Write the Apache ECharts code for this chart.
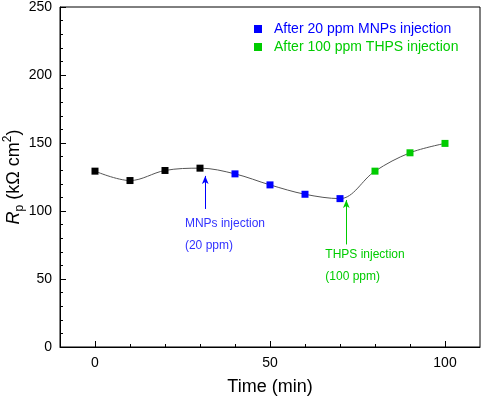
<!DOCTYPE html>
<html>
<head>
<meta charset="utf-8">
<script src="https://cdn.jsdelivr.net/npm/echarts@6/dist/echarts.min.js"></script>
<style>
  html, body { margin: 0; padding: 0; background: #fff; }
  #chart { width: 484px; height: 397px; }
</style>
</head>
<body>
<div id="chart"></div>
<script>
// time (min) and polarization resistance Rp (kΩ cm²)
const baseTime = [0, 10, 20, 30];
const baseRp = [129.3, 122.4, 129.8, 131.5];
const mnpsTime = [40, 50, 60, 70];
const mnpsRp = [127.3, 119.2, 112.3, 109.1];
const thpsTime = [80, 90, 100];
const thpsRp = [129.3, 142.8, 149.7];

// axis ticks
const xMajorTicks = [0, 50, 100];
const xMinorTicks = [10, 20, 30, 40, 60, 70, 80, 90];

// annotations: arrow [x, yFrom, yTo], text anchor [x, y]
const mnpsArrow = [31.5, 101.5, 125.8];
const thpsArrow = [71.8, 75.4, 108.1];
const mnpsNote = [25.7, 82.3];
const thpsNote = [65.8, 60.0];

const FONT = 'Liberation Sans, Arial, sans-serif';
const BLUE = '#0000ff';
const GREEN = '#00cc00';

const pairs = (xs, ys) => xs.map((x, i) => [x, ys[i]]);
const allPoints = pairs(baseTime, baseRp)
    .concat(pairs(mnpsTime, mnpsRp))
    .concat(pairs(thpsTime, thpsRp));

let chart = echarts.init(document.getElementById('chart'), null, { renderer: 'canvas' });

let option = {
    animation: false,
    grid: {
        left: 60, right: 4, top: 7, bottom: 50,
        outerBoundsMode: 'none',
        show: true, borderColor: '#000', borderWidth: 1
    },
    legend: {
        orient: 'vertical',
        left: 249, top: 17,
        itemWidth: 22, itemHeight: 8, itemGap: 4,
        icon: 'path://M0,0h8v8h-8z',
        selectedMode: false,
        textStyle: { fontFamily: FONT, fontSize: 14 },
        data: [
            { name: 'After 20 ppm MNPs injection', textStyle: { color: BLUE } },
            { name: 'After 100 ppm THPS injection', textStyle: { color: GREEN } }
        ]
    },
    xAxis: [{
        type: 'value',
        min: -10, max: 110,
        name: 'Time (min)',
        nameLocation: 'middle',
        nameGap: 31,
        nameMoveOverlap: false,
        nameTextStyle: { fontFamily: FONT, fontSize: 18, color: '#000' },
        axisLine: { onZero: false, lineStyle: { color: '#000', width: 1 } },
        axisTick: { inside: true, length: 6, customValues: xMajorTicks, lineStyle: { color: '#000' } },
        axisLabel: { customValues: xMajorTicks, margin: 9, fontFamily: FONT, fontSize: 14, color: '#000' },
        splitLine: { show: false }
    }, {
        // minor ticks only
        type: 'value',
        position: 'bottom',
        min: -10, max: 110,
        axisLine: { show: false, onZero: false },
        axisTick: { inside: true, length: 3, customValues: xMinorTicks, lineStyle: { color: '#000' } },
        axisLabel: { show: false },
        splitLine: { show: false }
    }],
    yAxis: {
        type: 'value',
        min: 0, max: 250, interval: 50,
        name: '{it|R}{sub|p}{n| (kΩ cm}{sup|2}{n|)}',
        nameLocation: 'middle',
        nameGap: 34,
        nameMoveOverlap: false,
        nameTextStyle: {
            fontFamily: FONT, fontSize: 18, color: '#000',
            rich: {
                it: { fontFamily: FONT, fontSize: 18, fontStyle: 'italic', lineHeight: 24, verticalAlign: 'middle' },
                n: { fontFamily: FONT, fontSize: 18, lineHeight: 24, verticalAlign: 'middle' },
                sub: { fontFamily: FONT, fontSize: 12, lineHeight: 12, verticalAlign: 'bottom' },
                sup: { fontFamily: FONT, fontSize: 12, lineHeight: 12, verticalAlign: 'top' }
            }
        },
        axisLine: { onZero: false, lineStyle: { color: '#000', width: 1 } },
        axisTick: { inside: true, length: 6, lineStyle: { color: '#000' } },
        minorTick: { show: true, splitNumber: 5, length: 3, lineStyle: { color: '#000' } },
        axisLabel: { margin: 8, fontFamily: FONT, fontSize: 14, color: '#000' },
        splitLine: { show: false }
    },
    series: [
        {
            // connecting curve + arrows
            type: 'line',
            data: allPoints,
            smooth: 0.35,
            showSymbol: false,
            symbol: 'none',
            lineStyle: { color: '#555', width: 1 },
            silent: true,
            z: 1,
            markLine: {
                silent: true,
                symbol: ['none', 'arrow'],
                symbolSize: [5, 8],
                label: { show: false },
                data: [
                    [
                        { coord: [mnpsArrow[0], mnpsArrow[1]], lineStyle: { color: BLUE, width: 1, type: 'solid' } },
                        { coord: [mnpsArrow[0], mnpsArrow[2]] }
                    ],
                    [
                        { coord: [thpsArrow[0], thpsArrow[1]], lineStyle: { color: GREEN, width: 1, type: 'solid' } },
                        { coord: [thpsArrow[0], thpsArrow[2]] }
                    ]
                ]
            },
            markPoint: {
                silent: true,
                symbolSize: 0,
                data: [
                    {
                        coord: mnpsNote,
                        label: {
                            show: true, position: 'right', distance: 0,
                            formatter: 'MNPs injection\n(20 ppm)',
                            fontFamily: FONT, fontSize: 12, lineHeight: 22, color: '#3333ff'
                        }
                    },
                    {
                        coord: thpsNote,
                        label: {
                            show: true, position: 'right', distance: 0,
                            formatter: 'THPS injection\n(100 ppm)',
                            fontFamily: FONT, fontSize: 12, lineHeight: 22, color: GREEN
                        }
                    }
                ]
            }
        },
        {
            name: 'Before injection',
            type: 'scatter',
            data: pairs(baseTime, baseRp),
            symbol: 'rect',
            symbolSize: 7,
            itemStyle: { color: '#000', opacity: 1 },
            z: 3
        },
        {
            name: 'After 20 ppm MNPs injection',
            type: 'scatter',
            data: pairs(mnpsTime, mnpsRp),
            symbol: 'rect',
            symbolSize: 7,
            itemStyle: { color: BLUE, opacity: 1 },
            z: 3
        },
        {
            name: 'After 100 ppm THPS injection',
            type: 'scatter',
            data: pairs(thpsTime, thpsRp),
            symbol: 'rect',
            symbolSize: 7,
            itemStyle: { color: GREEN, opacity: 1 },
            z: 3
        }
    ]
};

chart.setOption(option);
</script>
</body>
</html>
